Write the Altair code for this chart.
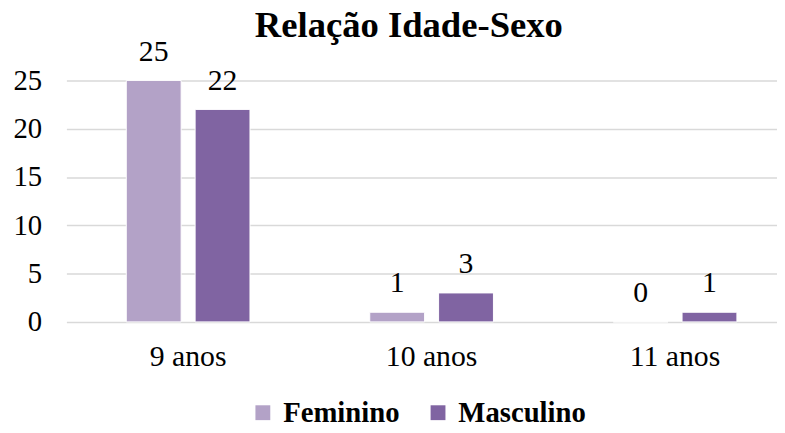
import altair as alt
import pandas as pd

categories = ["9 anos", "10 anos", "11 anos"]
series = ["Feminino", "Masculino"]
feminino = [25, 1, 0]
masculino = [22, 3, 1]
colors = ["#B3A2C7", "#8064A2"]

rows = []
for i, c in enumerate(categories):
    rows.append({"Idade": c, "Sexo": series[0], "Valor": feminino[i]})
    rows.append({"Idade": c, "Sexo": series[1], "Valor": masculino[i]})
df = pd.DataFrame(rows)

FONT = "Liberation Serif"

x_enc = alt.X("Idade:N", sort=categories,
              scale=alt.Scale(paddingInner=0, paddingOuter=0, range=[0, 738]),
              axis=alt.Axis(title=None, labelAngle=0, labelFont=FONT, labelFontSize=30,
                            labelColor="black", ticks=False, domain=False, labelPadding=20))
xo_enc = alt.XOffset("Sexo:N", sort=series,
                     scale=alt.Scale(paddingInner=0.203, paddingOuter=0.87))
y_enc = alt.Y("Valor:Q", scale=alt.Scale(domain=[0, 25]),
              axis=alt.Axis(title=None, values=[0, 5, 10, 15, 20, 25], labelFont=FONT,
                            labelFontSize=29, labelColor="black", ticks=False, domain=False,
                            labelPadding=25, gridColor="#d9d9d9", gridWidth=1.5))

bars = alt.Chart(df).mark_bar(stroke="white", strokeWidth=1).encode(
    x=x_enc, xOffset=xo_enc, y=y_enc,
    color=alt.Color("Sexo:N", scale=alt.Scale(domain=series, range=colors),
                    legend=alt.Legend(title=None, orient="none", legendX=184, legendY=321,
                                      direction="horizontal",
                                      labelFont=FONT, labelFontSize=29, labelFontWeight="bold",
                                      labelColor="black", symbolType="square", symbolSize=225,
                                      symbolStrokeWidth=0, columnPadding=24, labelOffset=6)),
)

text = alt.Chart(df).mark_text(dy=-20, baseline="alphabetic", font=FONT, fontSize=30,
                               color="black").encode(
    x=x_enc, xOffset=xo_enc, y=y_enc, text="Valor:Q")

chart = (bars + text).properties(
    width=718, height=244,
    title=alt.TitleParams("Relação Idade-Sexo", font=FONT, fontSize=37, fontWeight="bold",
                          color="black", anchor="middle", offset=-8, dx=-13),
    autosize=alt.AutoSizeParams(type="none"),
    padding={"left": 59, "top": 71, "right": 0, "bottom": 102},
).configure_view(stroke=None)

chart.save("out.html", embed_options={"renderer": "svg", "actions": False})
